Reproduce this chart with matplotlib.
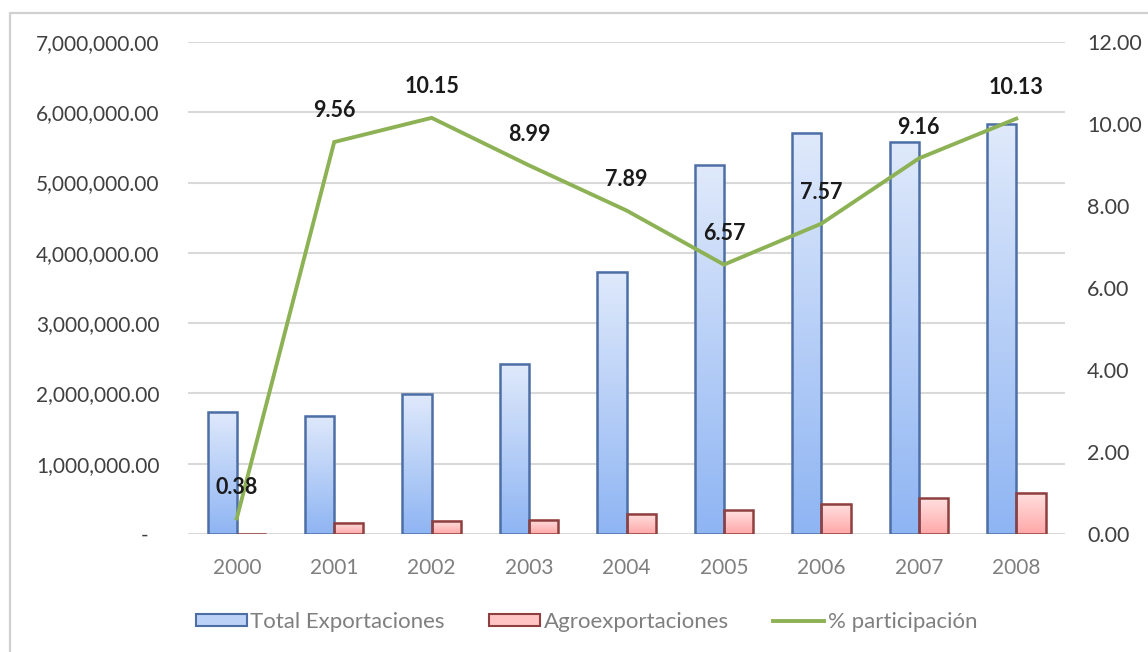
import matplotlib
matplotlib.use("Agg")
import matplotlib.pyplot as plt
import numpy as np
from matplotlib.patches import Patch, Rectangle
from matplotlib.lines import Line2D
from matplotlib.ticker import FuncFormatter, FixedLocator

years = ["2000", "2001", "2002", "2003", "2004", "2005", "2006", "2007", "2008"]
total_export = [1740000, 1680000, 1990000, 2420000, 3730000, 5250000, 5710000, 5580000, 5830000]
agro_export = [6600, 160000, 185000, 200000, 285000, 340000, 430000, 510000, 590000]
participacion = [0.38, 9.56, 10.15, 8.99, 7.89, 6.57, 7.57, 9.16, 10.13]
left_ticks = [0, 1000000, 2000000, 3000000, 4000000, 5000000, 6000000, 7000000]
right_ticks = [0, 2, 4, 6, 8, 10, 12]
legend_labels = ["Total Exportaciones", "Agroexportaciones", "% participación"]

FONT = "Lato"
plt.rcParams['font.family'] = [FONT, 'DejaVu Sans']

fig = plt.figure(figsize=(11.48, 6.52), dpi=100)
ax = fig.add_axes([0.1638, 0.181, 0.9277 - 0.1638, 0.9356 - 0.181])
ax2 = ax.twinx()

x = np.arange(len(years))
w = 0.30

blue_edge = "#4d6fa6"
red_edge = "#8e3f3f"
bars_b = ax.bar(x - w / 2, total_export, width=w, facecolor="none", edgecolor=blue_edge,
                linewidth=1.8, zorder=4)
bars_r = ax.bar(x + w / 2, agro_export, width=w, facecolor="none", edgecolor=red_edge,
                linewidth=1.8, zorder=4)

def grad(c_top, c_bot, n=64):
    t = np.linspace(0, 1, n)[:, None]
    ct = np.array(matplotlib.colors.to_rgb(c_top))
    cb = np.array(matplotlib.colors.to_rgb(c_bot))
    img = ct[None, None, :] * (1 - t[:, :, None]) + cb[None, None, :] * t[:, :, None]
    return img

gb = grad("#dfe9fb", "#8fb5f3")
gr = grad("#ffe0e0", "#ffa8a8")
for bars, g in ((bars_b, gb), (bars_r, gr)):
    for b in bars:
        x0 = b.get_x(); bw = b.get_width(); h = b.get_height()
        ax.imshow(g, extent=[x0, x0 + bw, 0, h], aspect="auto", zorder=3,
                  interpolation="bilinear")

ax.set_xlim(-0.5, len(years) - 0.5)
ax.set_ylim(0, 7000000)
ax.set_aspect("auto")
ax.yaxis.set_major_locator(FixedLocator(left_ticks))

def fmt_left(v, pos):
    if v == 0:
        return "-  "
    return f"{v:,.2f}"

ax.yaxis.set_major_formatter(FuncFormatter(fmt_left))
ax.set_xticks(x)
ax.set_xticklabels(years)
ax.grid(axis="y", color="#d9d9d9", linewidth=1.5, zorder=0)
ax.set_axisbelow(True)
for s in ax.spines.values():
    s.set_visible(False)
for s in ax2.spines.values():
    s.set_visible(False)
ax.tick_params(axis="y", length=0, pad=20.5, labelsize=15, labelcolor="#404040")
ax.tick_params(axis="x", length=0, pad=17, labelsize=15, labelcolor="#7f7f7f")

green = "#8db255"
ax2.plot(x, participacion, color=green, linewidth=2.8, zorder=5, solid_joinstyle="miter")
ax2.set_ylim(0, 12)
ax2.yaxis.set_major_locator(FixedLocator(right_ticks))
ax2.yaxis.set_major_formatter(FuncFormatter(lambda v, p: f"{v:.2f}"))
ax2.tick_params(axis="y", length=0, pad=16, labelsize=15.5, labelcolor="#404040")

for xi, v in zip(x, participacion):
    ax2.annotate(f"{v:.2f}", (xi, v), xytext=(0, 22.5), textcoords="offset points",
                 ha="center", va="center", fontsize=15.5, fontweight="bold",
                 color="#1a1a1a", zorder=6)

ax2.set_zorder(ax.get_zorder() + 1)
ax2.patch.set_visible(False)

handles = [
    Patch(facecolor="#bcd2f6", edgecolor=blue_edge, linewidth=1.5),
    Patch(facecolor="#ffc4c4", edgecolor=red_edge, linewidth=1.5),
    Line2D([0], [0], color=green, linewidth=2.8),
]
leg = fig.legend(handles, legend_labels, loc="center", bbox_to_anchor=(0.511, 0.046),
                 ncol=3, frameon=False, fontsize=16, handlelength=2.3, handleheight=0.45,
                 handletextpad=0.15, columnspacing=2.0, labelcolor="#7f7f7f")

fig.patches.append(Rectangle((10 / 1148, -0.05), 1.2, (652 - 13) / 652 + 0.05,
                             transform=fig.transFigure, fill=False,
                             edgecolor="#d0d0d0", linewidth=1.6))

fig.savefig("out.png", dpi=100)
